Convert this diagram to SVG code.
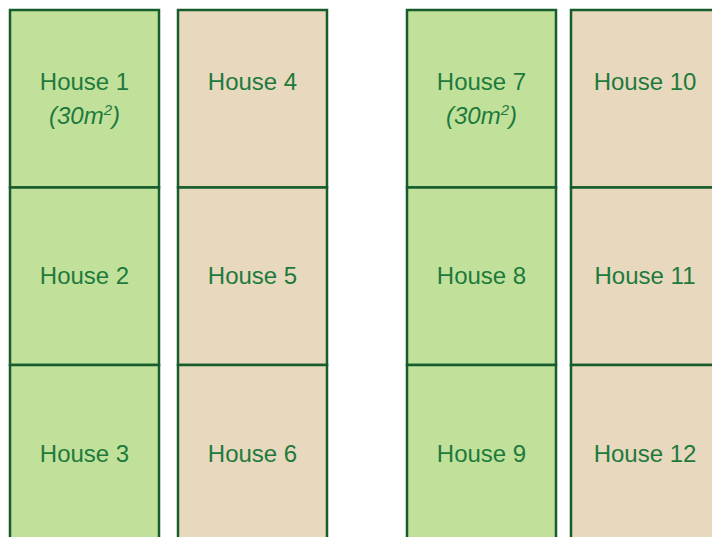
<svg xmlns="http://www.w3.org/2000/svg" width="712" height="537" viewBox="0 0 712 537">
<style>
.g{fill:#C1E19B;stroke:#165C2C;stroke-width:2.5}
.b{fill:#E8D8BD;stroke:#165C2C;stroke-width:2.5}
text{font-family:"Liberation Sans",Arial,sans-serif;font-size:24px;fill:#1E7A3C;text-anchor:middle}
.i{font-style:italic}
</style>
<rect width="712" height="537" fill="#FFFFFF"/>
<g id="house1"><rect class="g" x="10" y="10" width="149" height="177.5"/><text x="84.5" y="90">House 1</text><text class="i" x="84.5" y="124">(30m<tspan font-size="15" dy="-9">2</tspan><tspan dy="9">)</tspan></text></g>
<g id="house2"><rect class="g" x="10" y="187.5" width="149" height="177.5"/><text x="84.5" y="284">House 2</text></g>
<g id="house3"><rect class="g" x="10" y="365" width="149" height="177.5"/><text x="84.5" y="462">House 3</text></g>
<g id="house4"><rect class="b" x="178" y="10" width="149" height="177.5"/><text x="252.5" y="90">House 4</text></g>
<g id="house5"><rect class="b" x="178" y="187.5" width="149" height="177.5"/><text x="252.5" y="284">House 5</text></g>
<g id="house6"><rect class="b" x="178" y="365" width="149" height="177.5"/><text x="252.5" y="462">House 6</text></g>
<g id="house7"><rect class="g" x="407" y="10" width="149" height="177.5"/><text x="481.5" y="90">House 7</text><text class="i" x="481.5" y="124">(30m<tspan font-size="15" dy="-9">2</tspan><tspan dy="9">)</tspan></text></g>
<g id="house8"><rect class="g" x="407" y="187.5" width="149" height="177.5"/><text x="481.5" y="284">House 8</text></g>
<g id="house9"><rect class="g" x="407" y="365" width="149" height="177.5"/><text x="481.5" y="462">House 9</text></g>
<g id="house10"><rect class="b" x="571" y="10" width="149" height="177.5"/><text x="645" y="90">House 10</text></g>
<g id="house11"><rect class="b" x="571" y="187.5" width="149" height="177.5"/><text x="645" y="284">House 11</text></g>
<g id="house12"><rect class="b" x="571" y="365" width="149" height="177.5"/><text x="645" y="462">House 12</text></g>
<g id="connectors"/>
</svg>
